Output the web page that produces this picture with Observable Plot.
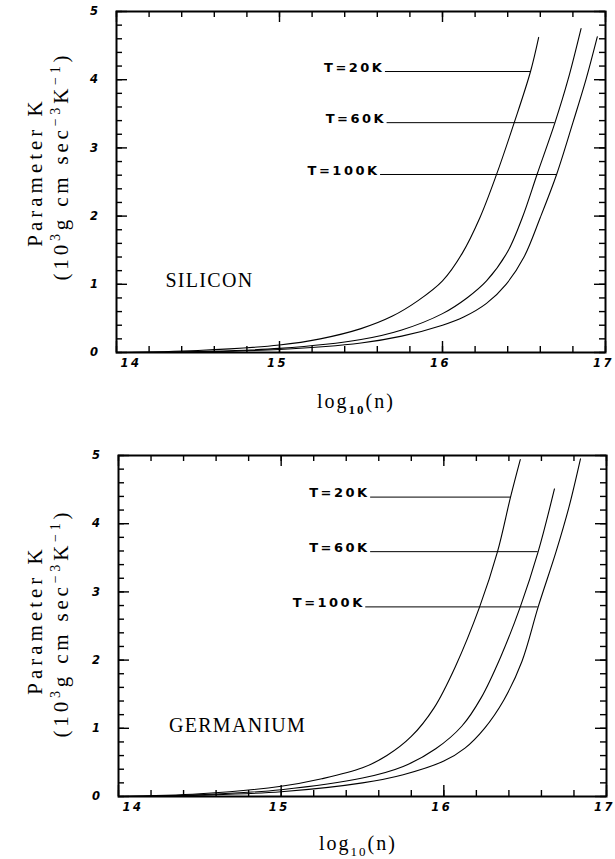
<!DOCTYPE html>
<html>
<head>
<meta charset="utf-8">
<script src="https://cdn.jsdelivr.net/npm/d3@7"></script>
<script src="https://cdn.jsdelivr.net/npm/@observablehq/plot@0.6"></script>
<style>
  html, body { margin: 0; padding: 0; background: #fff; }
  svg { display: block; }
  svg text { letter-spacing: 2.5px; }
</style>
</head>
<body>
<div id="chart"></div>
<script>
// ---------- axis ticks & labels ----------
const xMajor = [14, 15, 16, 17];
const xTickLabels = ["14", "15", "16", "17"];
const yMajor = [0, 1, 2, 3, 4, 5];
const yTickLabels = ["0", "1", "2", "3", "4", "5"];
const xMinor = d3.range(14, 17.001, 0.2).map(v => +v.toFixed(1));
const yMinor = d3.range(0, 5.001, 0.2).map(v => +v.toFixed(1));
const temps = ["T=20K", "T=60K", "T=100K"];

// ---------- SILICON (log10 n, K) ----------
const siT20 = [[14.0,0.0],[14.5,0.03],[15.0,0.11],[15.25,0.2],[15.5,0.35],[15.69,0.53],[15.85,0.76],[16.0,1.05],[16.12,1.45],[16.23,1.98],[16.33,2.6],[16.44,3.37],[16.54,4.12],[16.59,4.62]];
const siT60 = [[14.0,0.0],[14.5,0.015],[15.0,0.06],[15.5,0.19],[15.75,0.33],[16.0,0.57],[16.15,0.8],[16.27,1.05],[16.4,1.48],[16.49,1.98],[16.58,2.61],[16.69,3.37],[16.77,4.0],[16.85,4.75]];
const siT100 = [[14.0,0.0],[14.5,0.01],[15.0,0.045],[15.5,0.14],[15.75,0.24],[16.0,0.4],[16.13,0.52],[16.27,0.72],[16.39,1.0],[16.5,1.4],[16.6,1.98],[16.7,2.61],[16.8,3.37],[16.88,4.0],[16.95,4.63]];
const siLabelY = [4.12, 3.37, 2.61];
const siLabelX1 = [15.65, 15.66, 15.62];
const siLabelX2 = [16.54, 16.69, 16.70];

// ---------- GERMANIUM ----------
const geT20 = [[14.0,0.0],[14.5,0.04],[15.0,0.15],[15.25,0.26],[15.5,0.42],[15.65,0.6],[15.8,0.88],[15.94,1.3],[16.07,1.9],[16.22,2.78],[16.33,3.59],[16.41,4.39],[16.47,4.94]];
const geT60 = [[14.0,0.0],[14.5,0.025],[15.0,0.1],[15.5,0.27],[15.75,0.44],[15.95,0.7],[16.11,1.03],[16.23,1.45],[16.35,2.05],[16.47,2.78],[16.58,3.59],[16.68,4.51]];
const geT100 = [[14.0,0.0],[14.5,0.02],[15.0,0.07],[15.5,0.2],[15.75,0.32],[16.0,0.52],[16.13,0.71],[16.25,1.0],[16.37,1.42],[16.48,1.98],[16.58,2.78],[16.69,3.59],[16.77,4.25],[16.84,4.95]];
const geLabelY = [4.39, 3.59, 2.78];
const geLabelX1 = [15.55, 15.55, 15.52];
const geLabelX2 = [16.41, 16.58, 16.58];

const materials = ["SILICON", "GERMANIUM"];
const materialX = [14.30, 14.31];
const materialK = [1.06, 1.04];

const INK = "#000";

function panel(cfg) {
  const W = 615;
  const ih = cfg.height - cfg.mTop - cfg.mBottom;
  const iw = W - cfg.mLeft - cfg.mRight;
  const yPerPx = 5 / ih, xPerPx = 3 / iw;   // data units per pixel, for tick lengths
  const rows = cfg.curves.flatMap((pts, i) => pts.map(([x, k]) => ({t: temps[i], x, k})));
  const labels = temps.map((t, i) => ({t, k: cfg.labelY[i], x1: cfg.labelX1[i], x2: cfg.labelX2[i]}));
  const tickFont = {fontFamily: "DejaVu Sans", fontStyle: "italic", fontWeight: "bold", fontSize: 11.5, fill: INK};
  const ticksX = (vals, len) => [
    Plot.ruleX(vals, {x: d => d, y1: 0, y2: len * yPerPx, stroke: INK, strokeWidth: 1.4}),
    Plot.ruleX(vals, {x: d => d, y1: 5 - len * yPerPx, y2: 5, stroke: INK, strokeWidth: 1.4})
  ];
  const ticksY = (vals, len) => [
    Plot.ruleY(vals, {y: d => d, x1: 14, x2: 14 + len * xPerPx, stroke: INK, strokeWidth: 1.4}),
    Plot.ruleY(vals, {y: d => d, x1: 17 - len * xPerPx, x2: 17, stroke: INK, strokeWidth: 1.4})
  ];
  const svg = Plot.plot({
    width: W, height: cfg.height,
    marginTop: cfg.mTop, marginBottom: cfg.mBottom, marginLeft: cfg.mLeft, marginRight: cfg.mRight,
    x: {domain: [14, 17], axis: null},
    y: {domain: [0, 5], axis: null},
    style: {background: "#fff", color: INK},
    marks: [
      Plot.frame({stroke: INK, strokeWidth: 2}),
      ...ticksX(xMinor, 6),
      ...ticksX(xMajor, 11),
      ...ticksY(yMinor, 6),
      ...ticksY(yMajor, 11),
      Plot.line(rows, {x: "x", y: "k", z: "t", stroke: INK, strokeWidth: 1.1, curve: "catmull-rom"}),
      Plot.ruleY(labels, {y: "k", x1: "x1", x2: "x2", stroke: INK, strokeWidth: 1}),
      Plot.text(labels, {x: "x1", y: "k", text: "t", textAnchor: "end", dx: -1, dy: -4,
        fontFamily: "DejaVu Sans", fontWeight: "bold", fontSize: 13, fill: INK}),
      Plot.text([cfg.material], {x: () => cfg.matX, y: () => cfg.matK, text: d => d, textAnchor: "start",
        fontFamily: "Liberation Serif", fontSize: 20, fill: INK}),
      // tick labels
      Plot.text(xMajor.slice(0, 1), {x: d => d, text: (d, i) => xTickLabels[i], frameAnchor: "bottom", dy: 14, dx: 4, textAnchor: "start", ...tickFont}),
      Plot.text(xMajor.slice(1), {x: d => d, text: (d, i) => xTickLabels[i + 1], frameAnchor: "bottom", dy: 14, dx: -2, ...tickFont}),
      Plot.text(yMajor, {y: d => d, text: (d, i) => yTickLabels[i], frameAnchor: "left", dx: cfg.yLabDx, textAnchor: "end", ...tickFont})
    ]
  });
  const s = d3.select(svg);
  s.selectAll("text").filter(function() { return materials.includes(this.textContent); })
    .style("letter-spacing", "1.3px");
  s.selectAll("text").filter(function() { return yTickLabels.includes(this.textContent) && this.getAttribute("text-anchor") === "end"; })
    .style("letter-spacing", "0px");

  // x-axis title log10(n)
  const xt = s.append("text")
    .attr("x", cfg.xTitleX).attr("y", cfg.xTitleY)
    .attr("text-anchor", "middle")
    .attr("font-family", "Liberation Serif").attr("font-size", 20).attr("fill", INK)
    .style("letter-spacing", "2px");
  xt.append("tspan").text("log");
  xt.append("tspan").attr("dy", 6).attr("font-size", 13).attr("font-weight", cfg.subBold ? "bold" : "normal").text("10");
  xt.append("tspan").attr("dy", -6).text("(n)");

  // y-axis title, two rotated lines
  s.append("text")
    .attr("transform", `translate(${cfg.y1X},${cfg.y1Y}) rotate(-90)`)
    .attr("text-anchor", "middle")
    .attr("font-family", "Liberation Serif").attr("font-size", 21).attr("fill", INK)
    .style("letter-spacing", "4px")
    .text("Parameter K");
  const y2 = s.append("text")
    .attr("transform", `translate(${cfg.y2X},${cfg.y2Y}) rotate(-90)`)
    .attr("text-anchor", "middle")
    .attr("font-family", "Liberation Serif").attr("font-size", 21).attr("fill", INK)
    .style("letter-spacing", "3.8px");
  y2.append("tspan").text("(10");
  y2.append("tspan").attr("dy", -8).attr("font-size", 14).text("3");
  y2.append("tspan").attr("dy", 8).text("g cm sec");
  y2.append("tspan").attr("dy", -8).attr("font-size", 14).text("\u22123");
  y2.append("tspan").attr("dy", 8).text("K");
  y2.append("tspan").attr("dy", -8).attr("font-size", 14).text("\u22121");
  y2.append("tspan").attr("dy", 8).text(")");
  return svg;
}

const root = document.getElementById("chart");
root.append(panel({
  material: materials[0], matX: materialX[0], matK: materialK[0],
  curves: [siT20, siT60, siT100], labelY: siLabelY, labelX1: siLabelX1, labelX2: siLabelX2,
  height: 430, mTop: 11, mBottom: 78, mLeft: 116, mRight: 10, yLabDx: -16,
  xTitleX: 356, xTitleY: 408, subBold: true,
  y1X: 42, y1Y: 172, y2X: 68, y2Y: 166
}));
root.append(panel({
  material: materials[1], matX: materialX[1], matK: materialK[1],
  curves: [geT20, geT60, geT100], labelY: geLabelY, labelX1: geLabelX1, labelX2: geLabelX2,
  height: 429, mTop: 25, mBottom: 63, mLeft: 118, mRight: 9, yLabDx: -16,
  xTitleX: 358, xTitleY: 420, subBold: false,
  y1X: 42, y1Y: 190, y2X: 68, y2Y: 193
}));
</script>
</body>
</html>
